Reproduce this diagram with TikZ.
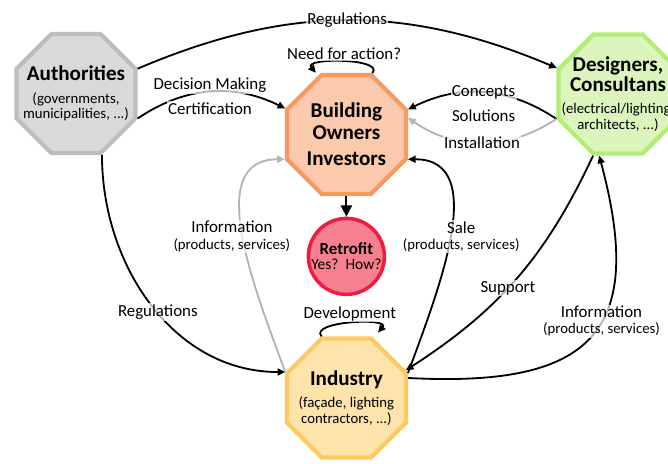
\documentclass[tikz,border=0pt]{standalone}
\usepackage{fontspec}
\setmainfont{Carlito}
\usetikzlibrary{arrows.meta,shapes.geometric}

\definecolor{authfill}{HTML}{D9D9D9}
\definecolor{authline}{HTML}{BDBDBD}
\definecolor{bofill}{HTML}{FBC9AB}
\definecolor{boline}{HTML}{F79A61}
\definecolor{desfill}{HTML}{DBF5BC}
\definecolor{desline}{HTML}{B2EE74}
\definecolor{indfill}{HTML}{FEE3AA}
\definecolor{indline}{HTML}{FDCA62}
\definecolor{retrofill}{HTML}{F6808F}
\definecolor{retroline}{HTML}{EE1C3F}
\definecolor{arrgrey}{HTML}{B3B3B3}

\newcommand{\ttlfont}{\fontsize{15}{15.5}\selectfont\bfseries}
\newcommand{\subfont}{\fontsize{10.5}{11}\selectfont}

\tikzset{
  oct/.style={regular polygon, regular polygon sides=8, minimum size=3.22cm, inner sep=0pt, line width=3pt},
  ttl/.style={align=center, font=\subfont},
  conn/.style={line width=1.3pt, -{Triangle[length=5.5pt,width=5pt]}},
  gconn/.style={conn, draw=arrgrey},
  lbl/.style={fill=white, fill opacity=0.7, text opacity=1, inner sep=1pt, align=center, font=\fontsize{12}{11.5}\selectfont}
}

\begin{document}
\begin{tikzpicture}
\useasboundingbox (0,0) rectangle (16.7,11.6);
\clip (0,0) rectangle (16.7,11.6);

\node[oct, fill=authfill, draw=authline] (auth) at (1.9,9.26) {};
\node[oct, fill=bofill, draw=boline] (bo) at (8.66,8.24) {};
\node[oct, fill=desfill, draw=desline] (des) at (15.45,9.25) {};
\node[oct, fill=indfill, draw=indline] (ind) at (8.66,1.65) {};
\node[circle, minimum size=1.9cm, fill=retrofill, draw=retroline, line width=2.5pt] (retro) at (8.66,5.19) {};

\node[ttl] (autht) at (auth) {{\ttlfont Authorities}\\[5pt](governments,\\municipalities, ...)};
\node[ttl, font=\ttlfont] (bot) at (bo) {Building\\Owners\\[3.5pt]Investors};
\node[ttl] (dest) at (des) {{\ttlfont Designers,}\\{\ttlfont Consultans}\\[5pt](electrical/lighting,\\architects, ...)};
\node[ttl] (indt) at (ind) {{\ttlfont Industry}\\[5pt](façade, lighting\\contractors, ...)};
\node[ttl, font=\fontsize{11}{10.7}\selectfont] (retrot) at (retro) {{\fontsize{12}{12}\selectfont\bfseries Retrofit}\\Yes?\ \ How?};

\draw[conn] (auth.22.5) to[bend left=23] node[lbl]{Regulations} (des.157.5);
\draw[conn] (auth.-22.5) to[bend left=30] node[lbl, above=-2pt]{Decision Making} node[lbl, below=6pt]{Certification} (bo.157.5);
\draw[conn] (auth.-67.5) to[out=-90,in=180] node[lbl, pos=0.53]{Regulations} (ind.157.5);
\draw[gconn] (ind.157.5) to[out=110,in=180] node[lbl, xshift=-8pt]{Information\\{\subfont (products, services)}} (bo.202.5);
\draw[conn] (ind.22.5) to[out=70,in=0] node[lbl, xshift=8pt]{Sale\\{\subfont (products, services)}} (bo.-22.5);
\draw[conn] (des.-112.5) to[bend left=16] node[lbl, pos=0.55]{Support} (ind.25);
\draw[conn] (ind.18) to[out=-3,in=-75,looseness=1.6] node[lbl, pos=0.57]{Information\\{\subfont (products, services)}} (des.-107);
\draw[conn] (des.202.5) to[bend right=30] node[lbl]{Concepts} node[lbl, below=11pt]{Solutions} (bo.22.5);
\draw[gconn] (des.202.5) to[bend left=34] node[lbl]{Installation} (bo.15);
\draw[conn] (bo.67.5) to[out=50,in=130,looseness=0.9] node[lbl, above]{Need for action?} ([xshift=-4pt]bo.112.5);
\draw[conn] (ind.112.5) to[out=130,in=50,looseness=0.9] node[lbl, above]{Development} ([xshift=4pt,yshift=3pt]ind.67.5);
\draw[line width=1.3pt, -{Triangle[length=8pt,width=8pt]}] (bo.south) -- (retro.north);
\end{tikzpicture}
\end{document}
